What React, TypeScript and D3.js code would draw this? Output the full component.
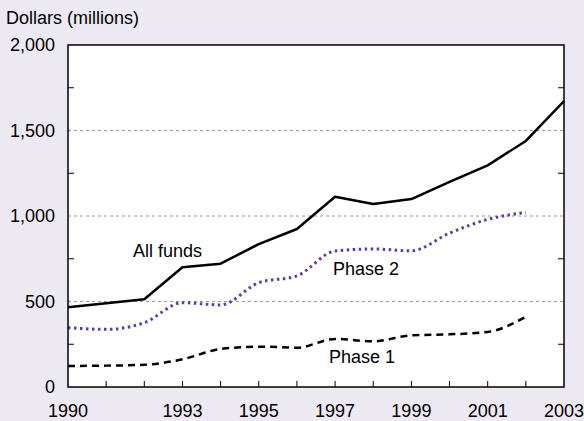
import React from "react";
import * as d3 from "d3";

const years = [1990, 1991, 1992, 1993, 1994, 1995, 1996, 1997, 1998, 1999, 2000, 2001, 2002, 2003];
const allFunds = [466, 490, 513, 700, 721, 836, 924, 1113, 1070, 1099, 1199, 1296, 1439, 1672];
const phase2Years = [1990, 1991, 1992, 1993, 1994, 1995, 1996, 1997, 1998, 1999, 2000, 2001, 2002];
const phase2 = [347, 337, 376, 493, 480, 610, 650, 795, 807, 797, 900, 980, 1021];
const phase1Years = [1990, 1991, 1992, 1993, 1994, 1995, 1996, 1997, 1998, 1999, 2000, 2001, 2002];
const phase1 = [123, 125, 130, 162, 222, 236, 230, 281, 267, 302, 308, 322, 411];
const yTickLabels = [0, 500, 1000, 1500, 2000];
const yMinorTicks = [250, 750, 1250, 1750];
const xTickLabels = [1990, 1993, 1995, 1997, 1999, 2001, 2003];

export default function App() {
  const W = 584, H = 421;
  const left = 68, right = 564, top = 45, bottom = 387;
  const x = d3.scaleLinear().domain([1990, 2003]).range([left, right]);
  const y = d3.scaleLinear().domain([0, 2000]).range([bottom, top]);
  const smooth = d3
    .line<[number, number]>()
    .x((d) => x(d[0]))
    .y((d) => y(d[1]))
    .curve(d3.curveMonotoneX);
  const straight = d3
    .line<[number, number]>()
    .x((d) => x(d[0]))
    .y((d) => y(d[1]));
  const font = "'Liberation Sans', Arial, Helvetica, sans-serif";
  const fs = 18;
  const allPts = years.map((yr, i) => [yr, allFunds[i]] as [number, number]);
  const p2Pts = phase2Years.map((yr, i) => [yr, phase2[i]] as [number, number]);
  const p1Pts = phase1Years.map((yr, i) => [yr, phase1[i]] as [number, number]);
  const innerYears = d3.range(1991, 2003);
  return (
    <svg
      width={W}
      height={H}
      style={{ position: "absolute", left: 0, top: 0, display: "block" }}
      fontFamily={font}
    >
      <rect x={0} y={0} width={W} height={H} fill="#ECE9F3" />
      <rect x={left} y={top} width={right - left} height={bottom - top} fill="#ffffff" />
      {[500, 1000, 1500].map((v) => (
        <line
          key={"g" + v}
          x1={left}
          x2={right}
          y1={y(v)}
          y2={y(v)}
          stroke="#9a9a9a"
          strokeWidth={1}
          strokeDasharray="3,3"
        />
      ))}
      {yMinorTicks.map((v) => (
        <g key={"t" + v}>
          <line x1={left} x2={left + 6} y1={y(v)} y2={y(v)} stroke="#000" strokeWidth={1} />
          <line x1={right - 6} x2={right} y1={y(v)} y2={y(v)} stroke="#000" strokeWidth={1} />
        </g>
      ))}
      {innerYears.map((yr) => (
        <line key={"x" + yr} x1={x(yr)} x2={x(yr)} y1={bottom} y2={bottom - 6} stroke="#000" strokeWidth={1} />
      ))}
      <path d={smooth(p1Pts) || ""} fill="none" stroke="#000" strokeWidth={2.5} strokeDasharray="7,5" />
      <path d={smooth(p2Pts) || ""} fill="none" stroke="#5A3E9E" strokeWidth={3} strokeDasharray="2.5,3.5" />
      <path d={straight(allPts) || ""} fill="none" stroke="#000" strokeWidth={2.5} strokeLinejoin="round" />
      <rect x={left} y={top} width={right - left} height={bottom - top} fill="none" stroke="#000" strokeWidth={1.5} />
      {yTickLabels.map((v) => (
        <text key={"yl" + v} x={55} y={y(v)} dy="0.35em" textAnchor="end" fontSize={fs} fill="#000">
          {d3.format(",")(v)}
        </text>
      ))}
      {xTickLabels.map((yr) => (
        <text key={"xl" + yr} x={x(yr)} y={417} textAnchor="middle" fontSize={fs} fill="#000">
          {yr}
        </text>
      ))}
      <text x={6} y={24} fontSize={fs} fill="#000">Dollars (millions)</text>
      <text x={133} y={257} fontSize={fs} fill="#000">All funds</text>
      <text x={333} y={275} fontSize={fs} fill="#000">Phase 2</text>
      <text x={329} y={363} fontSize={fs} fill="#000">Phase 1</text>
    </svg>
  );
}
